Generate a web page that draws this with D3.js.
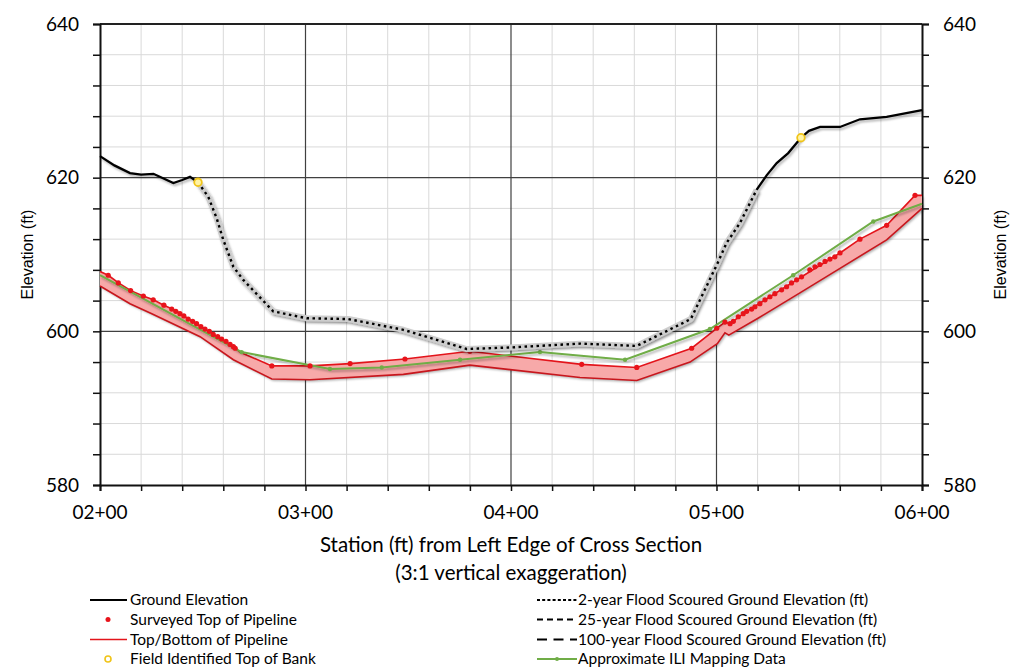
<!DOCTYPE html>
<html lang="en">
<head>
<meta charset="utf-8">
<script src="https://cdn.jsdelivr.net/npm/d3@7"></script>
<style>
  body { margin: 0; background: #fff; }
  svg text { font-family: Lato, "Open Sans", sans-serif; fill: #000; }
  .tick-label { font-size: 19px; }
  .legend text { font-size: 15.5px; }
  .ylab { font-family: "Liberation Sans", Arial, sans-serif !important; font-size: 16px; }
</style>
</head>
<body>
<div id="chart"></div>
<script>
// ground profile (station ft, elevation ft)
var groundElev = [[200,622.8],[207,621.6],[214.6,620.6],[220,620.4],[226,620.5],[235.7,619.3],[240,619.7],[243.8,620.1],[247.7,619.4],
  [252.7,617.5],[256.8,614.7],[260,611.9],[264.9,608.4],[269.7,606.7],[284.3,602.6],[300.6,601.7],[320.8,601.6],[347.6,600.2],
  [378.4,597.7],[399.5,597.9],[433.6,598.4],[461.2,598.1],[487.5,601.6],[500.4,608.8],[504.9,611.5],[511.4,614.1],[519.5,618.4],
  [524.4,620.3],[529.3,621.9],[534.9,623.2],[541.1,625.2],[545,626.1],[550.4,626.6],[555,626.6],[560.1,626.6],[569.8,627.6],
  [582.8,627.9],[600,628.8]];

// flood scoured ground (2, 25, 100 yr all coincide)
var floodScour = [[247.7,619.4],[252.7,617.5],[256.8,614.7],[260,611.9],[264.9,608.4],[269.7,606.7],[284.3,602.6],[300.6,601.7],
  [320.8,601.6],[347.6,600.2],[378.4,597.7],[399.5,597.9],[433.6,598.4],[461.2,598.1],[487.5,601.6],[500.4,608.8],[504.9,611.5],
  [511.4,614.1],[519.5,618.4]];

var topOfBank = [[247.7,619.4],[541.1,625.2]];

var surveyedTop = [[204.0,607.3],[208.9,606.3],[214.9,605.3],[221.1,604.6],[225.9,604.1],[231.1,603.4],[234.9,602.9],[236.9,602.6],
  [238.9,602.3],[240.8,602.0],[242.9,601.6],[245.1,601.3],[247.0,601.0],[249.1,600.6],[251.1,600.3],[253.2,600.0],[255.1,599.6],
  [257.3,599.3],[259.2,599.0],[261.3,598.7],[263.3,598.3],[264.9,598.0],[265.8,597.8],[283.6,595.5],[302.2,595.5],[321.7,595.8],
  [348.4,596.4],[380.0,597.4],[434.4,595.7],[461.2,595.3],[487.9,597.8],[500.1,600.4],[504.1,601.2],[506.6,601.0],[508.2,601.3],
  [510.6,601.9],[513.0,602.3],[514.7,602.6],[517.1,602.9],[518.7,603.2],[521.1,603.6],[523.6,604.1],[526.0,604.5],[528.4,604.9],
  [531.7,605.4],[534.1,605.8],[536.5,606.3],[539.0,606.7],[541.4,607.1],[545.4,608.0],[547.9,608.4],[550.3,608.7],[552.8,609.1],
  [555.2,609.4],[557.6,609.7],[560.1,610.2],[569.8,612.0],[582.8,613.8],[596.6,617.7]];

var pipeTop = [[200,607.8],[204,607.3],[209,606.3],[215,605.3],[221,604.6],[226,604.1],[231,603.4],[236,602.8],[251,600.3],
  [265,598.0],[268,597.3],[283.6,595.5],[302.2,595.5],[321.7,595.8],[348.4,596.4],[380,597.4],[434.4,595.7],[461.2,595.3],
  [487.9,597.8],[500.1,600.4],[504.1,601.2],[506.6,601.0],[513,602.3],[541.4,607.1],[560.1,610.2],[569.8,612.0],[582.8,613.8],
  [596.6,617.7],[600,617.7]];

var pipeBottom = [[200,605.9],[214.6,603.6],[225.2,602.3],[248.7,599.3],[264.9,596.3],[283.6,593.8],[302.2,593.7],[347.6,594.4],
  [380,595.6],[433.6,594.0],[461.2,593.6],[487.1,596.0],[500.4,598.4],[504.1,599.8],[506,599.5],[520.2,601.7],[540.6,605.0],
  [560.1,608.2],[582.8,611.9],[600,616.0]];

var iliData = [[200,607.3],[268.9,597.3],[311.9,595.1],[337.1,595.3],[375.2,596.3],[414.1,597.3],[455.5,596.3],[496.8,600.3],
  [537.3,607.3],[576.3,614.3],[600,616.6]];

var xMajorTicks = [200,300,400,500,600];
var yMajorTicks = [580,600,620,640];

var legendLeft = ["Ground Elevation","Surveyed Top of Pipeline","Top/Bottom of Pipeline","Field Identified Top of Bank"];
var legendRight = ["2-year Flood Scoured Ground Elevation (ft)","25-year Flood Scoured Ground Elevation (ft)",
  "100-year Flood Scoured Ground Elevation (ft)","Approximate ILI Mapping Data"];

var W = 1024, H = 669;
var margin = {top: 24, right: 102, bottom: 184, left: 100};
var width = W - margin.left - margin.right,
    height = H - margin.top - margin.bottom;

var svg = d3.select("#chart").append("svg").attr("width", W).attr("height", H);

var defs = svg.append("defs");
var f = defs.append("filter").attr("id","shadow").attr("x","-5%").attr("y","-5%").attr("width","110%").attr("height","120%");
f.append("feDropShadow").attr("dx",1.5).attr("dy",2).attr("stdDeviation",1.2)
  .attr("flood-color","#000").attr("flood-opacity",0.3);

var g = svg.append("g").attr("transform","translate(" + margin.left + "," + margin.top + ")");

var x = d3.scaleLinear().domain([200,600]).range([0,width]);
var y = d3.scaleLinear().domain([580,640]).range([height,0]);

function staFmt(d) {
  var h = Math.floor(d/100), r = d % 100;
  return (h < 10 ? "0" : "") + h + "+" + (r < 10 ? "0" : "") + r;
}

// minor grid
g.append("g").selectAll("line").data(d3.range(220,600,20).filter(function(d){return d % 100 != 0;}))
  .enter().append("line")
  .attr("x1", d => x(d)).attr("x2", d => x(d)).attr("y1",0).attr("y2",height)
  .attr("stroke","#d9d9d9").attr("stroke-width",1);
g.append("g").selectAll("line").data(d3.range(584,640,4).filter(function(d){return d % 20 != 0;}))
  .enter().append("line")
  .attr("x1",0).attr("x2",width).attr("y1", d => y(d)).attr("y2", d => y(d))
  .attr("stroke","#d9d9d9").attr("stroke-width",1);

// major grid
g.append("g").selectAll("line").data(xMajorTicks.slice(1,-1))
  .enter().append("line")
  .attr("x1", d => x(d)).attr("x2", d => x(d)).attr("y1",0).attr("y2",height)
  .attr("stroke","#404040").attr("stroke-width",1.2);
g.append("g").selectAll("line").data(yMajorTicks.slice(1,-1))
  .enter().append("line")
  .attr("x1",0).attr("x2",width).attr("y1", d => y(d)).attr("y2", d => y(d))
  .attr("stroke","#404040").attr("stroke-width",1.2);
g.append("line").attr("x1",0).attr("x2",width).attr("y1",0).attr("y2",0)
  .attr("stroke","#222").attr("stroke-width",2);

// axes
var tickVals = d3.range(580,641,4);
var yL = g.append("g").call(d3.axisLeft(y).tickValues(tickVals).tickSize(7).tickFormat(""));
var yR = g.append("g").attr("transform","translate(" + width + ",0)")
  .call(d3.axisRight(y).tickValues(tickVals).tickSize(7).tickFormat(""));
var xB = g.append("g").attr("transform","translate(0," + height + ")")
  .call(d3.axisBottom(x).tickValues(d3.range(200,601,20)).tickSize(6).tickFormat(""));
[yL, yR, xB].forEach(function(a){
  a.select(".domain").attr("stroke","#111").attr("stroke-width",2);
  a.selectAll(".tick line").attr("stroke","#111").attr("stroke-width",1.5);
});

g.append("g").selectAll("text").data(yMajorTicks).enter().append("text")
  .attr("class","tick-label").attr("x",-21).attr("y", d => y(d)).attr("dy","0.35em")
  .attr("text-anchor","end").text(d => d);
g.append("g").selectAll("text").data(yMajorTicks).enter().append("text")
  .attr("class","tick-label").attr("x",width + 21).attr("y", d => y(d)).attr("dy","0.35em")
  .attr("text-anchor","start").text(d => d);
g.append("g").selectAll("text").data(xMajorTicks).enter().append("text")
  .attr("class","tick-label").attr("x", d => x(d)).attr("y",height + 34)
  .attr("text-anchor","middle").text(staFmt);

// axis titles
g.append("text").attr("x",width/2).attr("y",height + 67).attr("text-anchor","middle")
  .style("font-size","20.5px").text("Station (ft) from Left Edge of Cross Section");
g.append("text").attr("x",width/2).attr("y",height + 95).attr("text-anchor","middle")
  .style("font-size","20.5px").text("(3:1 vertical exaggeration)");
g.append("text").attr("class","ylab").attr("transform","translate(" + (-67) + "," + (height/2) + ") rotate(-90)")
  .attr("text-anchor","middle").text("Elevation (ft)");
g.append("text").attr("class","ylab").attr("transform","translate(" + (width + 84) + "," + (height/2) + ") rotate(-90)")
  .attr("text-anchor","middle").text("Elevation (ft)");

var line = d3.line().x(d => x(d[0])).y(d => y(d[1]));

// pipeline band
var plot = g.append("g");
plot.append("path").datum(pipeTop.concat(pipeBottom.slice().reverse()))
  .attr("d", d => line(d) + "Z").attr("fill","#f7a9a9").attr("stroke","none")
  .attr("filter","url(#shadow)");
plot.append("path").datum(pipeTop).attr("d",line).attr("fill","none")
  .attr("stroke","#e3141b").attr("stroke-width",1.6);
plot.append("path").datum(pipeBottom).attr("d",line).attr("fill","none")
  .attr("stroke","#c8161d").attr("stroke-width",1.6);

// ILI
plot.append("path").datum(iliData).attr("d",line).attr("fill","none")
  .attr("stroke","#70ad47").attr("stroke-width",2).attr("filter","url(#shadow)");
plot.append("g").selectAll("circle").data(iliData.slice(1,-1)).enter().append("circle")
  .attr("cx", d => x(d[0])).attr("cy", d => y(d[1])).attr("r",2.2).attr("fill","#70ad47");

// surveyed
plot.append("g").selectAll("circle").data(surveyedTop).enter().append("circle")
  .attr("cx", d => x(d[0])).attr("cy", d => y(d[1])).attr("r",2.6).attr("fill","#e8141b");

// ground
plot.append("path").datum(groundElev).attr("d",line).attr("fill","none")
  .attr("stroke","#000").attr("stroke-width",2.3).attr("filter","url(#shadow)");

// flood scour (overlapping 2/25/100 yr)
plot.append("path").datum(floodScour).attr("d",line).attr("fill","none")
  .attr("stroke","#cdcdcd").attr("stroke-width",6).attr("stroke-linejoin","round")
  .attr("filter","url(#shadow)");
plot.append("path").datum(floodScour).attr("d",line).attr("fill","none")
  .attr("stroke","#000").attr("stroke-width",2.4).attr("stroke-dasharray","2.5,3.5");

// top of bank
plot.append("g").selectAll("circle").data(topOfBank).enter().append("circle")
  .attr("cx", d => x(d[0])).attr("cy", d => y(d[1])).attr("r",3.8)
  .attr("fill","#fff3a6").attr("stroke","#f0c419").attr("stroke-width",1.8);

// legend
var leg = svg.append("g").attr("class","legend");
var rowY = [600, 619.5, 639.5, 659];
var lgL = leg.selectAll("g.l").data(legendLeft).enter().append("g")
  .attr("transform", (d,i) => "translate(88," + rowY[i] + ")");
lgL.append("text").attr("x",42).attr("dy","0.35em").text(d => d);
lgL.each(function(d,i){
  var s = d3.select(this);
  if (i == 0) s.append("line").attr("x1",2).attr("x2",39).attr("stroke","#000").attr("stroke-width",2);
  if (i == 1) s.append("circle").attr("cx",20).attr("r",2.5).attr("fill","#e8141b");
  if (i == 2) s.append("line").attr("x1",2).attr("x2",39).attr("stroke","#e3141b").attr("stroke-width",1.6);
  if (i == 3) s.append("circle").attr("cx",20).attr("r",3).attr("fill","#fff").attr("stroke","#f0c419").attr("stroke-width",1.6);
});
var lgR = leg.selectAll("g.r").data(legendRight).enter().append("g")
  .attr("transform", (d,i) => "translate(535," + rowY[i] + ")");
lgR.append("text").attr("x",43).attr("dy","0.35em").text(d => d);
lgR.each(function(d,i){
  var s = d3.select(this);
  var dash = ["3,2.2","6,4","10,6.5"];
  if (i < 3) s.append("line").attr("x1",2).attr("x2",42).attr("stroke","#000").attr("stroke-width",2)
    .attr("stroke-dasharray",dash[i]);
  if (i == 3) {
    s.append("line").attr("x1",2).attr("x2",42).attr("stroke","#70ad47").attr("stroke-width",2);
    s.append("circle").attr("cx",22).attr("r",2).attr("fill","#70ad47");
  }
});
</script>
</body>
</html>
